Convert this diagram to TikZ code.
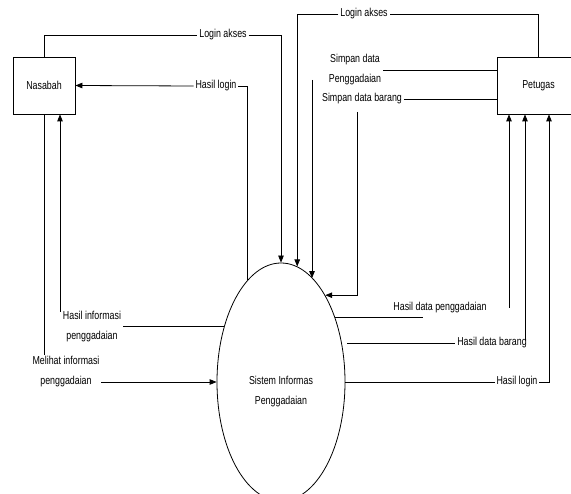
\documentclass[tikz,border=0pt]{standalone}
\usepackage{fontspec}
\setmainfont[FakeStretch=0.77]{Liberation Sans}
\usetikzlibrary{arrows.meta,shapes.geometric}

\begin{document}
\begin{tikzpicture}[x=1pt, y=-1pt, line width=0.8pt,
  font=\fontsize{11.5}{20}\selectfont,
  entity/.style={draw, rectangle, minimum height=57pt, inner sep=0pt},
  proses/.style={draw, ellipse, minimum width=128pt, minimum height=238pt, inner sep=0pt},
  lbl/.style={align=center, inner sep=1.5pt},
  flow/.style={-{Triangle[length=7pt, width=5.5pt]}}]

\useasboundingbox (0,0) rectangle (571,494);

%--- ENTITIES AND PROCESS ---
\node[entity, minimum width=62pt] (nasabah) at (44,85.5) {Nasabah};
\node[entity, minimum width=83pt] (petugas) at (538.5,85.5) {Petugas};
\node[proses] (proc) at (281,382) {};
\node[lbl] (proctxt) at (281,392) {Sistem Informas\\Penggadaian};

%--- LABELS ---
\node[lbl] (la1) at (223,35) {Login akses};
\node[lbl] (hl1) at (216,86) {Hasil login};
\node[lbl] (hip) at (92,327) {Hasil informasi\\penggadaian};
\node[lbl] (mip) at (66,372) {Melihat informasi\\penggadaian};
\node[lbl] (la2) at (364,14) {Login akses};
\node[lbl] (sdp) at (355,70) {Simpan data\\Penggadaian};
\node[lbl] (sdb) at (362,99) {Simpan data barang};
\node[lbl] (hdp) at (440,308) {Hasil data penggadaian};
\node[lbl] (hdb) at (492,343) {Hasil data barang};
\node[lbl] (hl2) at (517,382) {Hasil login};

% bend points
\coordinate (hipup) at (60,312);
\coordinate (sdpdown) at (312,80);
\coordinate (sdbdown) at (357,112);
\coordinate (hdpend) at (423,318);
\coordinate (hdpup) at (509,308);
\coordinate (hdbstart) at (347,343);
\coordinate (hdbup) at (525,340);
\coordinate (hl2up) at (549,382);

%--- NASABAH FLOWS ---
\draw (nasabah.north) |- (la1.west);
\draw[flow] (la1.east) -| (proc.north);
\draw (proc.108) |- (hl1.east);
\draw[flow] (hl1.west) -- (nasabah.east);
\draw (proc.136) -- (proc.136 -| hip.east);
\draw[flow] (hipup) -- (hipup |- nasabah.south);
\draw (nasabah.south) -- (nasabah.south |- mip.north);
\draw[flow] (mip.east |- proc.west) -- (proc.west);

%--- PETUGAS FLOWS ---
\draw (petugas.north) |- (la2.east);
\draw[flow] (la2.west) -| (proc.82);
\draw (sdp.east) -- (sdp.east -| petugas.west);
\draw[flow] (sdpdown) -- (sdpdown |- proc.73);
\draw (sdb.east) -- (sdb.east -| petugas.west);
\draw[flow] (sdbdown) |- (proc.63);
\draw (proc.50) -- (proc.50 -| hdpend);
\draw[flow] (hdpup) -- (hdpup |- petugas.south);
\draw (hdbstart) -- (hdb.west);
\draw[flow] (hdbup) -- (hdbup |- petugas.south);
\draw (proc.east) -- (hl2.west);
\draw[flow] (hl2.east) -- (hl2up) -- (hl2up |- petugas.south);

\end{tikzpicture}
\end{document}
